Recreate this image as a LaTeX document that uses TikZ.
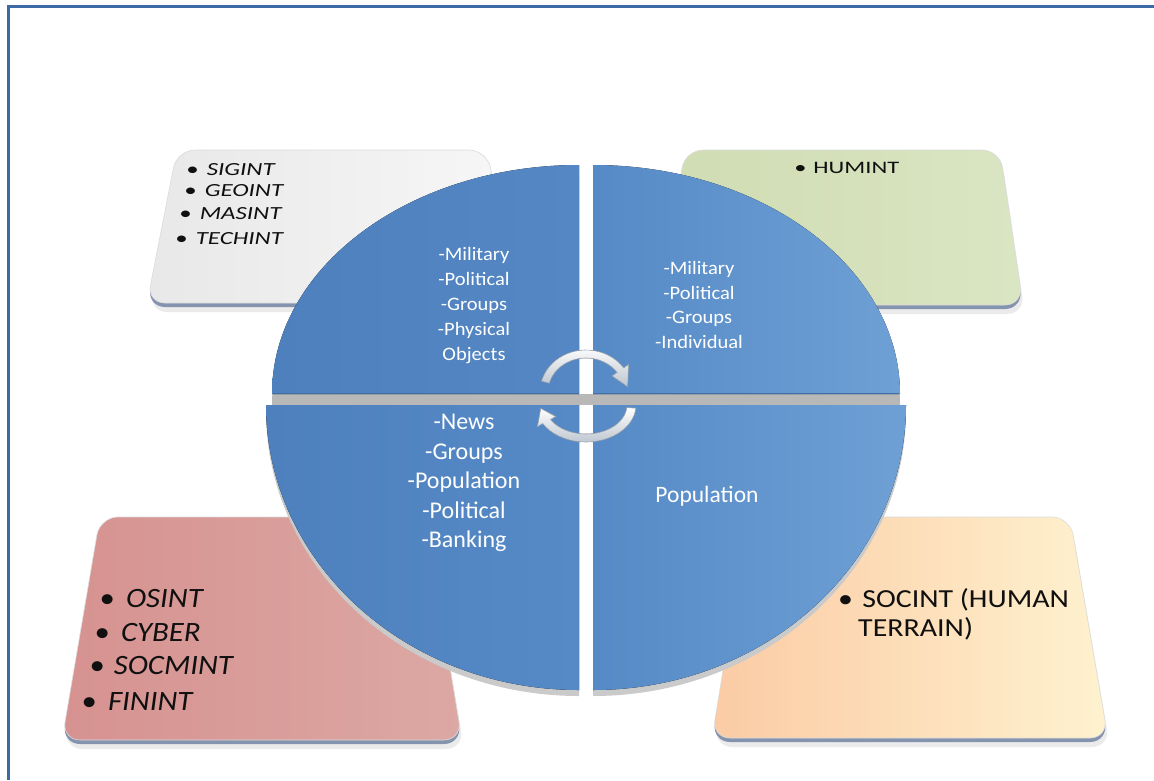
\documentclass[tikz,border=0pt]{standalone}
\usepackage{fontspec}
\setmainfont{Carlito}
\usetikzlibrary{calc}

\definecolor{frameblue}{HTML}{3D6AA5}
\definecolor{cardedge}{HTML}{8493AE}
\definecolor{inkblack}{HTML}{101010}
\definecolor{greyA}{HTML}{E8E8E8}
\definecolor{greyB}{HTML}{F7F7F7}
\definecolor{greenA}{HTML}{D0DCB2}
\definecolor{greenB}{HTML}{DAE5C3}
\definecolor{pinkA}{HTML}{D69290}
\definecolor{pinkB}{HTML}{DCA8A3}
\definecolor{peachA}{HTML}{FBCBA4}
\definecolor{peachB}{HTML}{FEF2CF}
\definecolor{blueA}{HTML}{4D80BD}
\definecolor{blueB}{HTML}{5487C3}
\definecolor{blueC}{HTML}{568AC6}
\definecolor{blueD}{HTML}{6EA0D5}
\definecolor{rimblue}{HTML}{416EA7}
\definecolor{sidegrey}{HTML}{B8B8B8}
\definecolor{arrowlow}{HTML}{BCC5CF}
\definecolor{arrowrim}{HTML}{A0AAB5}

\newcommand\setfs[2]{\fontsize{#1}{#2}\selectfont}

% rounded card: soft shadow, thick lower rim, shaded face
\newcommand\cardshape[5]{%
  \fill[rounded corners=18pt, black, opacity=0.08, shift={(2,9)}] #1 -- #2 -- #3 -- #4 -- cycle;
  \fill[rounded corners=18pt, cardedge, shift={(0,4)}] #1 -- #2 -- #3 -- #4 -- cycle;
  \path[rounded corners=18pt, draw=black!14, line width=0.6pt, #5] #1 -- #2 -- #3 -- #4 -- cycle;
}

\tikzset{
  qtext/.style={text=white, align=center, inner sep=0pt},
  cardtext/.style={text=inkblack, anchor=west, inner sep=0pt},
  arrowfill/.style={top color=white, bottom color=arrowlow, draw=arrowrim, line width=0.6pt},
}

\begin{document}
\begin{tikzpicture}[x=1pt, y=-1pt]
\useasboundingbox (0,0) rectangle (1154,780);
\fill[white] (0,0) rectangle (1154,780);

% page frame
\draw[frameblue, line width=3pt] (8,780) -- (8,6) -- (1154,6);

% cards
\cardshape{(177,150)}{(487,150)}{(517,303)}{(147,303)}{left color=greyA, right color=greyB}
\cardshape{(685,150)}{(1000,150)}{(1023,305)}{(660,305)}{left color=greenA, right color=greenB}
\cardshape{(100,517)}{(425,517)}{(462,740)}{(62,740)}{left color=pinkA, right color=pinkB}
\cardshape{(748,517)}{(1070,517)}{(1108,738)}{(712,738)}{left color=peachA, right color=peachB}

% side faces of the disc
\fill[sidegrey!75] (579,405) -- (579,696) arc[start angle=90, end angle=180, x radius=313, y radius=285] -- cycle;
\fill[sidegrey!75] (593,411) -- (906,411) arc[start angle=0, end angle=90, x radius=313, y radius=285] -- cycle;
\fill[sidegrey] (579,405) -- (272,405) arc[start angle=180, end angle=270, x radius=307, y radius=229] -- cycle;
\fill[sidegrey] (593,405) -- (593,176) arc[start angle=270, end angle=360, x radius=307, y radius=229] -- cycle;
\fill[sidegrey] (578,394) rectangle (594,405);

% disc quarters
\fill[left color=blueA, right color=blueB] (579,394) -- (272,394) arc[start angle=180, end angle=270, x radius=307, y radius=229] -- cycle;
\fill[left color=blueC, right color=blueD] (593,394) -- (593,165) arc[start angle=270, end angle=360, x radius=307, y radius=229] -- cycle;
\fill[left color=blueA, right color=blueC] (579,405) -- (579,690) arc[start angle=90, end angle=180, x radius=313, y radius=285] -- cycle;
\fill[left color=blueC, right color=blueD] (593,405) -- (906,405) arc[start angle=0, end angle=90, x radius=313, y radius=285] -- cycle;
\draw[rimblue, line width=1pt] (273,393.5) -- (579,393.5);
\draw[rimblue, line width=1pt] (593,393.5) -- (899,393.5);

% cycle arrows in the middle
\filldraw[arrowfill, shift={(586,392)}]
  (195:46 and 42) arc[start angle=195, end angle=325, x radius=46, y radius=42]
  -- (325:52 and 48) -- (352:42 and 38) -- (325:32 and 28) -- (325:38 and 34)
  arc[start angle=325, end angle=195, x radius=38, y radius=34] -- cycle;
\filldraw[arrowfill, shift={(586,405)}]
  (5:50 and 37) arc[start angle=5, end angle=150, x radius=50, y radius=37]
  -- (150:56 and 43) -- (174:45.5 and 33) -- (150:35 and 23) -- (150:41 and 29)
  arc[start angle=150, end angle=5, x radius=41, y radius=29] -- cycle;

% quarter labels
\node[qtext, xscale=1.08, font=\setfs{19}{25}] (tlq) at (474,306) {-Military\\-Political\\-Groups\\-Physical\\Objects};
\node[qtext, xscale=1.08, font=\setfs{19}{24.7}] (trq) at (699,305) {-Military\\-Political\\-Groups\\-Individual};
\node[qtext, font=\setfs{24}{29.5}] (blq) at (464,483) {-News\\-Groups\\-Population\\-Political\\-Banking};
\node[qtext, font=\setfs{23.5}{28}] (brq) at (707,496) {Population};

% card labels
\node[cardtext, xscale=1.35, font=\setfs{18.5}{22}] (sig) at (186,170) {•\hspace{6pt}\textit{SIGINT}};
\node[cardtext, xscale=1.35, font=\setfs{18.5}{22}] (geo) at (184,191) {•\hspace{6pt}\textit{GEOINT}};
\node[cardtext, xscale=1.35, font=\setfs{18.5}{22}] (mas) at (179,214) {•\hspace{6pt}\textit{MASINT}};
\node[cardtext, xscale=1.35, font=\setfs{18.5}{22}] (tec) at (175,239) {•\hspace{6pt}\textit{TECHINT}};

\node[cardtext, xscale=1.4, font=\setfs{17.5}{21}] (hum) at (794,168) {•\hspace{5pt}HUMINT};

\node[cardtext, xscale=1.1, font=\setfs{28}{34}] (osi) at (99.5,598) {•\hspace{10pt}\textit{OSINT}};
\node[cardtext, xscale=1.1, font=\setfs{28}{34}] (cyb) at (94.5,632) {•\hspace{10pt}\textit{CYBER}};
\node[cardtext, xscale=1.1, font=\setfs{28}{34}] (socm) at (89.5,665) {•\hspace{8pt}\textit{SOCMINT}};
\node[cardtext, xscale=1.1, font=\setfs{28}{34}] (fin) at (81.5,702) {•\hspace{10pt}\textit{FININT}};

\node[cardtext, xscale=1.15, font=\setfs{26}{30}] (soci) at (838,600) {•\hspace{8pt}SOCINT (HUMAN};
\node[cardtext, xscale=1.15, font=\setfs{26}{30}] (terr) at (858,629) {TERRAIN)};
\end{tikzpicture}
\end{document}
